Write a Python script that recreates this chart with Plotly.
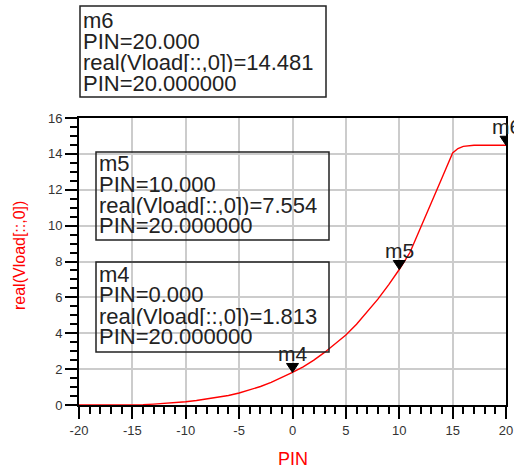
import plotly.graph_objects as go

# ---- data ----
pin = [-20, -19, -18, -17, -16, -15, -14, -13, -12, -11, -10, -9, -8, -7, -6, -5,
       -4, -3, -2, -1, 0, 1, 2, 3, 4, 5, 6, 7, 8, 9, 10, 11, 12, 13, 14, 15,
       15.5, 16, 16.5, 17, 18, 19, 20]
vload = [0, 0, 0, 0, 0, 0, 0.02, 0.05, 0.08, 0.13, 0.18, 0.25, 0.33, 0.42, 0.53, 0.67,
         0.83, 1.03, 1.26, 1.52, 1.813, 2.13, 2.5, 2.93, 3.4, 3.9, 4.5, 5.2, 5.9, 6.7, 7.554,
         8.5, 9.85, 11.25, 12.65, 14.05, 14.3, 14.42, 14.47, 14.48, 14.481, 14.481, 14.481]

marker_names = ["m4", "m5", "m6"]
marker_pin = [0.0, 10.0, 20.0]
marker_val = [1.813, 7.554, 14.481]
sweep_pin = 20.0

x_ticks = [-20, -15, -10, -5, 0, 5, 10, 15, 20]
y_ticks = [0, 2, 4, 6, 8, 10, 12, 14, 16]

# ---- layout geometry (pixels) ----
W, H = 514, 468
L, R, T, B = 79, 506, 118, 405


def px(X):
    return (X - L) / (R - L)


def py(Y):
    return (B - Y) / (B - T)


fig = go.Figure()
fig.add_trace(go.Scatter(x=pin, y=vload, mode="lines",
                         line=dict(color="#ff0000", width=1.4),
                         hoverinfo="skip", showlegend=False))

shapes = []
annotations = []

# marker triangles + labels
for name, mx, my in zip(marker_names, marker_pin, marker_val):
    shapes.append(dict(type="path", xref="x", yref="y",
                       xsizemode="pixel", ysizemode="pixel",
                       xanchor=mx, yanchor=my,
                       path="M-6,9 L6,9 L0,0 Z",
                       fillcolor="black", line=dict(color="black", width=1)))
    annotations.append(dict(x=mx, y=my, xref="x", yref="y", text=name,
                            showarrow=False, yshift=19, xanchor="center", yanchor="middle",
                            font=dict(family="Liberation Sans, Arial", size=21, color="#222")))

# readout boxes (pixel positions): box (x0, x1, y0, y1), text left, line centers
boxes = {
    "m6": ((80, 326, 6, 97), 82, [20, 41, 62, 83]),
    "m5": ((96, 329, 152, 240), 98, [163, 184, 205, 225]),
    "m4": ((96, 329, 262, 352), 98, [274, 294, 316, 336]),
}
for name, mx, my in zip(marker_names, marker_pin, marker_val):
    (x0, x1, y0, y1), tx, ys = boxes[name]
    shapes.append(dict(type="rect", xref="paper", yref="paper",
                       x0=px(x0), x1=px(x1), y0=py(y1), y1=py(y0),
                       line=dict(color="#222", width=1.5), fillcolor="rgba(0,0,0,0)"))
    lines = [name, f"PIN={mx:.3f}", f"real(Vload[::,0])={my:.3f}", f"PIN={sweep_pin:.6f}"]
    for txt, yy in zip(lines, ys):
        annotations.append(dict(x=px(tx), y=py(yy), xref="paper", yref="paper", text=txt,
                                showarrow=False, xanchor="left", yanchor="middle",
                                height=20, valign="middle", borderpad=0,
                                font=dict(family="Liberation Sans, Arial", size=22, color="#222")))

# axis titles
annotations.append(dict(x=px(19), y=py(256), xref="paper", yref="paper",
                        text="real(Vload[::,0])", textangle=-90, showarrow=False,
                        xanchor="center", yanchor="middle",
                        font=dict(family="Liberation Sans, Arial", size=16, color="#ff0000")))
annotations.append(dict(x=px(293), y=py(459), xref="paper", yref="paper",
                        text="PIN", showarrow=False, xanchor="center", yanchor="middle",
                        font=dict(family="Liberation Sans, Arial", size=18, color="#ff0000")))

axis_common = dict(showline=True, linecolor="black", linewidth=2, mirror=True,
                   ticks="outside", ticklen=12, tickwidth=1.5, tickcolor="black",
                   showgrid=True, gridcolor="#cccccc", gridwidth=1.5, zeroline=False,
                   automargin=False,
                   tickfont=dict(family="Liberation Sans, Arial", size=13, color="#333"))

fig.update_layout(
    width=W, height=H,
    margin=dict(l=L, r=W - R, t=T, b=H - B, pad=0, autoexpand=False),
    paper_bgcolor="white", plot_bgcolor="white",
    xaxis=dict(range=[-20, 20], tickvals=x_ticks, ticktext=[str(v) for v in x_ticks],
               minor=dict(dtick=1, ticks="outside", ticklen=7, tickcolor="black", showgrid=False),
               **axis_common),
    yaxis=dict(range=[0, 16], tickvals=y_ticks, ticktext=[str(v) for v in y_ticks],
               minor=dict(dtick=0.5, ticks="outside", ticklen=7, tickcolor="black", showgrid=False),
               **axis_common),
    shapes=shapes,
    annotations=annotations,
    showlegend=False,
)

fig.write_html("out.html")
